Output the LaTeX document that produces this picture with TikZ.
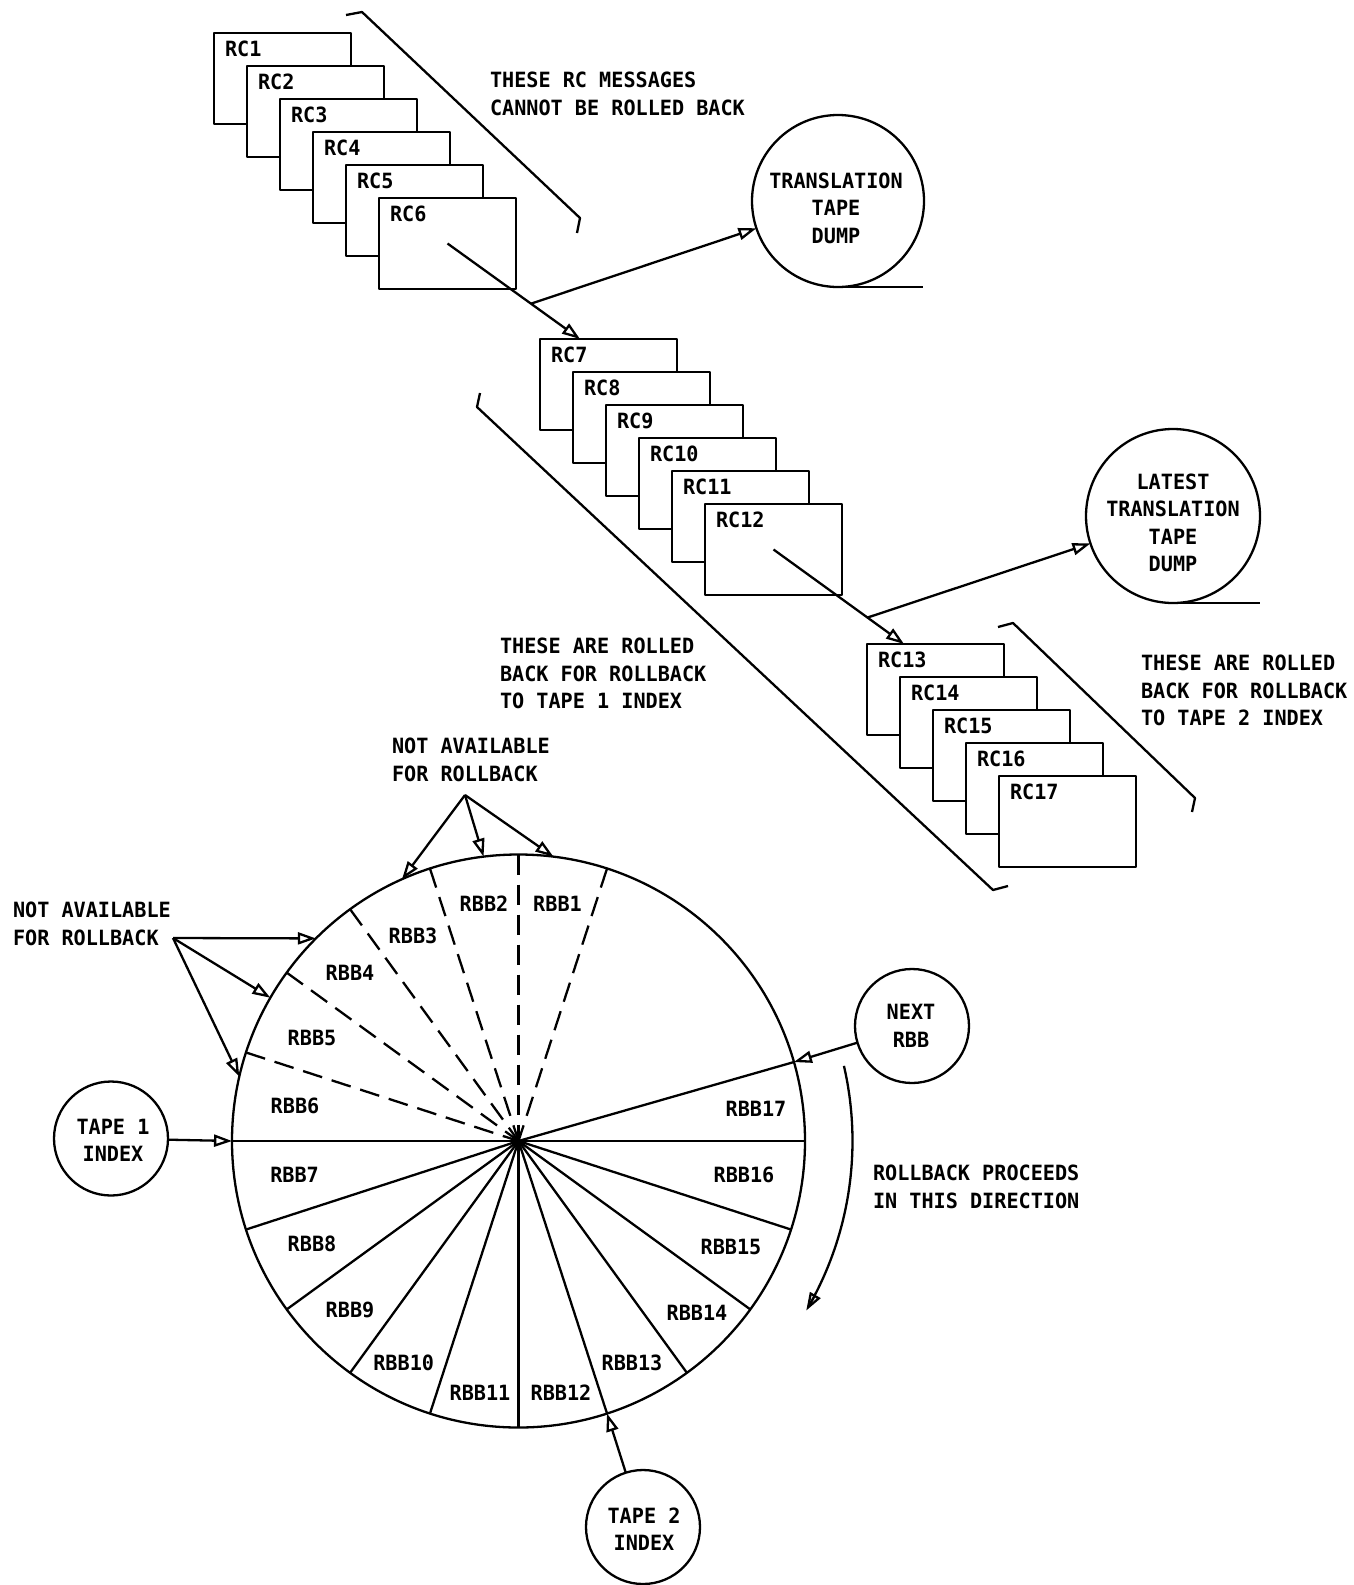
\documentclass[tikz,border=0pt]{standalone}
\usepackage{fontspec}
\setmainfont[FakeStretch=0.96]{DejaVu Sans Mono}
\usetikzlibrary{arrows.meta,calc}
\begin{document}
\begin{tikzpicture}[x=1pt,y=-1pt,
  line width=2.3pt, line join=round,
  every node/.style={inner sep=0pt, outer sep=0pt},
  txt/.style={font=\fontsize{21}{27.5}\selectfont\bfseries},
  rcbox/.style={draw, fill=white, minimum width=137pt, minimum height=91pt, anchor=north west},
  tape/.style={draw, circle, minimum size=#1},
  arr/.style={-{Triangle[open,length=18pt,width=12pt]}},
  dspoke/.style={dash pattern=on 20pt off 10pt},
]
\useasboundingbox (0,0) rectangle (1354,1585);

% ---- RC stacks ----
\foreach \i [count=\k from 0] in {1,...,6} {
  \node[rcbox] (rc\i) at ({214+33*\k},{33+33*\k}) {};
  \node[txt, anchor=north west] (rct\i) at ([shift={(11,8)}]rc\i.north west) {RC\i};
}
\foreach \i [count=\k from 0] in {7,...,12} {
  \node[rcbox] (rc\i) at ({540+33*\k},{339+33*\k}) {};
  \node[txt, anchor=north west] (rct\i) at ([shift={(11,8)}]rc\i.north west) {RC\i};
}
\foreach \i [count=\k from 0] in {13,...,17} {
  \node[rcbox] (rc\i) at ({867+33*\k},{644+33*\k}) {};
  \node[txt, anchor=north west] (rct\i) at ([shift={(11,8)}]rc\i.north west) {RC\i};
}

% ---- brackets ----
\draw (346,15) -- (362,12) -- (580,218) -- (577,233);
\draw (480,393) -- (477,407) -- (993,890) -- (1008,886);
\draw (998,627) -- (1013,623) -- (1195,798) -- (1192,812);

% ---- bracket texts ----
\node[txt, anchor=north west, align=left] (msg1) at (490,72) {THESE RC MESSAGES\\CANNOT BE ROLLED BACK};
\node[txt, anchor=north west, align=left] (msg2) at (500,638) {THESE ARE ROLLED\\BACK FOR ROLLBACK\\TO TAPE 1 INDEX};
\node[txt, anchor=north west, align=left] (msg3) at (1141,655) {THESE ARE ROLLED\\BACK FOR ROLLBACK\\TO TAPE 2 INDEX};

% ---- tape dumps ----
\node[tape=172pt] (td1) at (838,201) {};
\node[txt, align=center] (td1t) at (836,208) {TRANSLATION\\TAPE\\DUMP};
\coordinate (td1e) at ([xshift=85pt]td1.south);
\draw (td1.south) -- (td1e);
\node[tape=174pt] (td2) at (1173,516) {};
\node[txt, align=center] (td2t) at (1173,523) {LATEST\\TRANSLATION\\TAPE\\DUMP};
\coordinate (td2e) at ([xshift=87pt]td2.south);
\draw (td2.south) -- (td2e);

% ---- stack arrows ----
\coordinate (a1e) at ([xshift=40pt]rc7.north west);
\draw[arr] (rc6.center) -- (a1e);
\coordinate (b1) at ($(rc6.center)!0.63!(a1e)$);
\draw[arr] (b1) -- (td1);
\coordinate (a2e) at ([xshift=37pt]rc13.north west);
\draw[arr] (rc12.center) -- (a2e);
\coordinate (b2) at ($(rc12.center)!0.72!(a2e)$);
\draw[arr] (b2) -- (td2);

% ---- wheel ----
\coordinate (c) at (518.5,1141);
\node[circle, draw, minimum size=573pt] (wheel) at (c) {};
\foreach \a in {72,90,...,162} \draw[dspoke] (wheel.\a) -- (c);
\foreach \a in {180,198,...,342} \draw (wheel.\a) -- (c);
\draw (wheel.0) -- (c);
\draw (wheel.16) -- (c);

\foreach \n/\x/\y in {1/557.5/903.6, 2/484/903.6, 3/413/936, 4/350/972.5, 5/312/1038,
  6/295/1106, 7/294.6/1174.5, 8/312/1244, 9/350/1310, 10/403.7/1363, 11/480/1393,
  12/561/1393, 13/632/1363, 14/697/1313, 15/731/1247, 16/744/1175, 17/756/1109}
  \node[txt] (rbb\n) at (\x,\y) {RBB\n};

% ---- not available labels ----
\node[txt, anchor=north west, align=left] (na1) at (392,738) {NOT AVAILABLE\\FOR ROLLBACK};
\coordinate (na1s) at (465,795);
\draw[arr] (na1s) -- (wheel.114);
\draw[arr] (na1s) -- (wheel.97);
\draw[arr] (na1s) -- (wheel.83);

\node[txt, anchor=north west, align=left] (na2) at (13,902) {NOT AVAILABLE\\FOR ROLLBACK};
\coordinate (na2s) at (173,938);
\draw[arr] (na2s) -- (wheel.135);
\draw[arr] (na2s) -- (wheel.150);
\draw[arr] (na2s) -- (wheel.167);

% ---- index circles ----
\node[tape=114pt] (t1) at (111,1138.5) {};
\node[txt, align=center] (t1t) at (113,1140.5) {TAPE 1\\INDEX};
\draw[arr] (t1) -- (wheel.180);

\node[tape=114pt] (next) at (912,1026) {};
\node[txt, align=center] (nextt) at (911,1026) {NEXT\\RBB};
\draw[arr] (next) -- (wheel.16);

\node[tape=114pt] (t2) at (643,1527) {};
\node[txt, align=center] (t2t) at (644,1529) {TAPE 2\\INDEX};
\draw[arr] (t2) -- (wheel.-72);

% ---- direction ----
\draw[arr] plot[domain=13:-30.5, samples=60] ({518.5+334*cos(\x)},{1141-334*sin(\x)});
\node[txt, anchor=north west, align=left] (dir) at (873,1165) {ROLLBACK PROCEEDS\\IN THIS DIRECTION};
\end{tikzpicture}
\end{document}
